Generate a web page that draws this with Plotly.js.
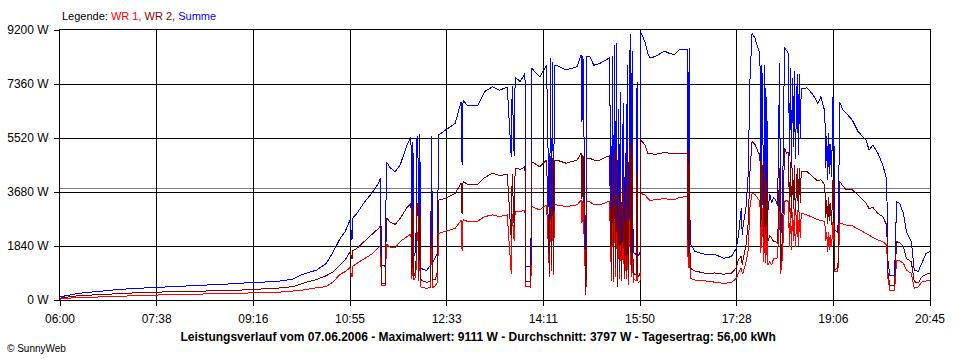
<!DOCTYPE html>
<html>
<head>
<meta charset="utf-8">
<script src="https://cdn.plot.ly/plotly-3.0.1.min.js"></script>
<style>
html,body{margin:0;padding:0;background:#fff;}
#chart{width:960px;height:360px;}
#chart .scatterlayer path, #chart .gridlayer path, #chart .shapelayer path, #chart path.xtick, #chart path.ytick {shape-rendering: crispEdges;}
</style>
</head>
<body>
<div id="chart"></div>
<script>
// Minutes since midnight, 07.06.2006
const times = [
  360,365,380,400,420,440,460,480,500,520,
  540,555,580,597,607,621,631,638,645,650,
  655,657,658,662,670,677,684,686,687,691,
  692,696,701,706,713,717,718,719,720,722,
  723,724,725,726,727,729,733,737,738,739,
  742,744,745,752,762,768,769,770,775,785,
  792,800,807,815,819,820,822,823,828,833,
  834,839,840,848,855,858,859,860,861,862,
  863,865,875,886,890,891,892,895,896,899,
  903,909,919,921,922,923,924,925,926,927,
  928,929,930,931,932,933,934,935,936,937,
  938,940,941,942,943,944,946,947,948,950,
  951,955,958,960,965,970,975,980,985,990,
  998,999,1000,1001,1006,1016,1026,1035,1043,1048,
  1050,1053,1054,1055,1058,1060,1062,1064,1067,1070,
  1072,1073,1074,1076,1077,1078,1079,1080,1082,1084,
  1086,1088,1090,1092,1093,1095,1097,1099,1101,1102,
  1103,1104,1105,1106,1107,1108,1110,1111,1112,1113,
  1114,1120,1126,1131,1134,1138,1139,1140,1141,1142,
  1143,1144,1145,1146,1147,1148,1151,1152,1153,1156,
  1160,1166,1172,1180,1183,1187,1192,1197,1201,1202,
  1204,1209,1211,1214,1218,1221,1226,1229,1233,1237,
  1241,1245
];
// WR 1 (W)
const wr1 = [
  30,60,80,110,125,150,170,185,200,215,
  225,240,260,305,340,420,455,625,875,965,
  1100,770,1150,1250,1420,1560,1780,1850,510,480,
  1900,1800,1780,1990,2160,2250,700,2200,680,800,
  2250,2300,650,2300,450,420,400,430,2250,420,
  500,600,2270,2330,2440,2720,1670,2740,2670,2690,
  2840,2900,2840,2900,900,2920,2000,3030,3000,3070,
  450,440,3180,3070,3240,800,3330,1000,3250,850,
  3240,3240,3180,3240,3400,2630,3380,170,3350,3350,
  3240,3240,3370,650,3350,600,3500,800,3500,600,
  2700,700,2900,650,1700,2600,720,2000,700,3300,
  500,3640,800,3500,600,700,650,3000,600,620,
  3630,3580,3460,3400,3410,3430,3460,3420,3410,3500,
  3520,1100,3500,740,680,650,620,570,590,740,
  900,1100,900,950,1300,1700,3240,3630,3600,3460,
  3350,1600,3240,1300,3200,1250,2800,1200,1300,1200,
  1420,1400,1450,3500,900,1500,3350,3400,3350,1820,
  3150,1700,3000,2000,3100,1800,3050,1850,3000,2100,
  2950,2900,2800,2730,2720,2670,2000,2300,1650,2300,
  1700,2200,1800,2650,2600,970,960,1300,2620,2580,
  2550,2530,2420,2270,2210,2120,2040,1990,1870,800,
  340,340,1360,1340,1250,1020,910,400,450,620,
  650,680
];
// WR 2 (W)
const wr2 = [
  60,90,150,190,225,250,270,285,290,310,
  330,360,400,455,570,700,830,965,1190,1360,
  1640,1400,1680,1760,2010,2215,2440,2520,570,560,
  2800,2650,2580,2780,3150,3300,900,3200,800,1000,
  3250,3300,800,3300,700,650,600,650,3350,680,
  700,1000,3400,3460,3630,3975,2920,4050,3920,3940,
  4170,4320,4240,4280,2100,4300,2500,4500,4450,4540,
  625,620,4710,4540,4770,900,4900,1200,4850,1000,
  4770,4770,4660,4770,5000,3450,4950,280,4830,4830,
  4770,4770,4920,900,4900,700,5100,1100,5200,450,
  3600,950,4300,800,2800,4200,900,3200,1000,4700,
  800,5500,1000,5300,900,900,850,4400,800,850,
  5450,5280,5000,5000,4960,5000,5030,5000,5000,5020,
  5000,1500,5100,1080,990,910,920,880,910,1100,
  1360,1500,1200,1400,1900,2600,4490,5400,5300,5050,
  4940,2500,4770,2100,4700,2200,4100,2000,2200,2100,
  1990,2000,1900,4490,1100,2200,5170,5000,5050,3000,
  4700,2800,4500,3100,4600,2900,4500,3000,4500,3300,
  4370,4370,4200,4050,4100,3920,2800,3400,2600,3500,
  2700,3300,2550,4100,4050,1000,1100,1500,4050,3900,
  3750,3750,3580,3300,3120,3150,2950,2840,2550,1000,
  510,510,1990,1950,1820,1420,1300,630,580,800,
  880,910
];
// Summe (W)
const summe = [
  100,140,230,300,360,400,430,475,500,535,
  560,600,625,715,875,1020,1250,1650,2100,2330,
  2720,2040,2800,2950,3350,3630,3975,4145,1190,1150,
  4710,4500,4370,4600,5280,5560,1600,5400,1500,1700,
  5500,5600,1400,5650,1100,1050,1000,1200,5600,1250,
  1500,1600,5620,5790,6020,6750,4600,6800,6610,6640,
  7100,7270,7150,7250,4880,7300,4900,7600,7440,7720,
  1140,1140,7890,7600,8000,2100,8230,2500,8100,2200,
  8000,8000,7840,7950,8350,6080,8300,450,8290,8290,
  8000,8060,8250,1700,8300,1600,8700,2000,8750,1600,
  6500,1700,7100,1500,4300,6700,1650,5000,1700,8000,
  1600,9080,1800,8500,1700,1600,1550,7440,1500,1550,
  9110,8800,8400,8250,8290,8400,8480,8400,8370,8520,
  8520,2300,8600,1930,1650,1560,1560,1420,1480,1760,
  2160,3120,2200,2550,3200,4260,7660,9090,8920,8580,
  8400,3240,8000,3200,8000,3100,6900,3000,3600,3300,
  3500,3400,3200,8060,2000,3300,8630,8500,8400,4900,
  7900,4500,7550,5200,7800,4800,7700,4950,7700,5500,
  7200,7230,6990,6700,6930,6420,4500,5600,4100,5700,
  4300,5300,4200,6900,6800,2400,2300,2900,6760,6500,
  6360,6130,5730,5450,5110,5280,5000,4600,4090,1420,
  850,850,3350,3300,2950,2330,1990,1020,970,1300,
  1590,1650
];
const average = 3797;
const xTickVals = [360, 458.333, 556.667, 655, 753.333, 851.667, 950, 1048.333, 1146.667, 1245];
const xTickText = ['06:00','07:38','09:16','10:55','12:33','14:11','15:50','17:28','19:06','20:45'];
const yTickVals = [0, 1840, 3680, 5520, 7360, 9200];
const yTickText = ['0 W','1840 W','3680 W','5520 W','7360 W','9200 W'];

const FONT = 'Liberation Sans, Arial, sans-serif';
const traces = [
  {x: times, y: summe, name: 'Summe', type: 'scatter', mode: 'lines', line: {color: '#0000ff', width: 1}},
  {x: times, y: wr1, name: 'WR 1', type: 'scatter', mode: 'lines', line: {color: '#ff0000', width: 1}},
  {x: times, y: wr2, name: 'WR 2', type: 'scatter', mode: 'lines', line: {color: '#800000', width: 1}}
];
const layout = {
  width: 960, height: 360,
  margin: {l: 60, r: 30, t: 30, b: 60, pad: 0},
  paper_bgcolor: '#ffffff', plot_bgcolor: '#ffffff',
  showlegend: false,
  font: {family: FONT, size: 12, color: '#000'},
  title: {text: '<b>Leistungsverlauf vom 07.06.2006 - Maximalwert: 9111 W - Durchschnitt: 3797 W - Tagesertrag: 56,00 kWh</b>',
          x: 0.498, xref: 'container', xanchor: 'center', y: 0.064, yref: 'container', yanchor: 'middle',
          font: {family: FONT, size: 12, color: '#000'}},
  xaxis: {range: [360, 1245], tickmode: 'array', tickvals: xTickVals, ticktext: xTickText,
          showgrid: true, gridcolor: '#000', gridwidth: 1, zeroline: false,
          showline: true, linecolor: '#000', linewidth: 1, mirror: true,
          ticks: 'outside', ticklen: 5, tickcolor: '#000', tickwidth: 1, ticklabelstandoff: 3,
          tickfont: {family: FONT, size: 12, color: '#000'}, fixedrange: true},
  yaxis: {range: [0, 9200], tickmode: 'array', tickvals: yTickVals, ticktext: yTickText,
          showgrid: true, gridcolor: '#000', gridwidth: 1, zeroline: false,
          showline: true, linecolor: '#000', linewidth: 1, mirror: true,
          ticks: 'outside', ticklen: 5, tickcolor: '#000', tickwidth: 1, ticklabelstandoff: 3,
          tickfont: {family: FONT, size: 12, color: '#000'}, fixedrange: true},
  shapes: [
    {type: 'line', xref: 'paper', x0: 0, x1: 1, yref: 'y', y0: average, y1: average,
     line: {color: '#808080', width: 1}, layer: 'below'}
  ],
  annotations: [
    {xref: 'paper', yref: 'paper', x: 0, y: 1, xanchor: 'left', yanchor: 'bottom', yshift: 6, showarrow: false,
     text: 'Legende: <span style="color:#ff0000">WR 1,</span> <span style="color:#800000">WR 2,</span> <span style="color:#0000ff">Summe</span>',
     font: {family: FONT, size: 11, color: '#000'}},
    {xref: 'paper', yref: 'paper', x: -0.063, y: 0, xanchor: 'left', yanchor: 'middle', yshift: -48, showarrow: false,
     text: '© SunnyWeb', font: {family: FONT, size: 10, color: '#000'}}
  ]
};
Plotly.newPlot('chart', traces, layout, {staticPlot: true, displayModeBar: false});
</script>
</body>
</html>
